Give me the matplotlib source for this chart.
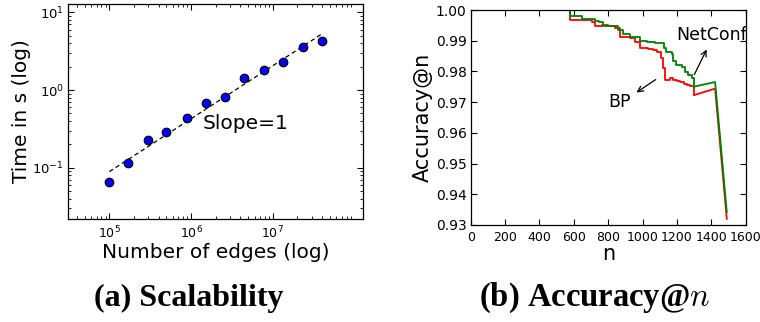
import numpy as np
import matplotlib
matplotlib.use("Agg")
import matplotlib.pyplot as plt

# ---------------- data ----------------
# (a) Scalability
edges = [1.0e5, 1.71e5, 2.94e5, 5.0e5, 8.8e5, 1.51e6, 2.6e6, 4.5e6, 7.8e6, 1.35e7, 2.33e7, 3.98e7]
times = [0.065, 0.114, 0.225, 0.291, 0.431, 0.68, 0.82, 1.44, 1.81, 2.27, 3.54, 4.24]
fit_edges = [1.0e5, 3.98e7]
fit_times = [0.089, 5.26]
x_major = [1e5, 1e6, 1e7]

# (b) Accuracy@n  (step part + linear tail)
netconf_n = [0, 578, 645, 723, 747, 770, 810, 859, 888, 927, 985, 1024, 1072, 1117,
             1124, 1135, 1169, 1179, 1195, 1227, 1247, 1266, 1286]
netconf_acc = [1.0, 0.99805, 0.99707, 0.99642, 0.9960, 0.99489, 0.9948, 0.99349, 0.99208,
               0.9913, 0.9899, 0.98948, 0.9893, 0.9891, 0.98752, 0.98643, 0.9858, 0.98339,
               0.9820, 0.98155, 0.97991, 0.9788, 0.97775]
netconf_tail_n = [1299, 1422, 1490]
netconf_tail_acc = [0.97503, 0.97655, 0.9342]

bp_n = [0, 578, 704, 723, 762, 800, 840, 869, 927, 956, 985, 1030, 1060, 1082, 1105,
        1121, 1131, 1160, 1179, 1200, 1218, 1240, 1257, 1275]
bp_acc = [1.0, 0.99664, 0.99603, 0.9949, 0.9951, 0.9948, 0.9940, 0.99131, 0.9910, 0.98947,
          0.98773, 0.9873, 0.9869, 0.9864, 0.98427, 0.9810, 0.9773, 0.9778, 0.9772, 0.9768,
          0.9764, 0.9760, 0.9756, 0.9751]
bp_tail_n = [1300, 1422, 1490]
bp_tail_acc = [0.9723, 0.9744, 0.9320]

# ---------------- figure ----------------
W, H = 760, 322
fig = plt.figure(figsize=(W / 100, H / 100), dpi=100)
fig.patch.set_facecolor("white")


def px_axes(x0, y0, x1, y1):
    return fig.add_axes([x0 / W, 1 - y1 / H, (x1 - x0) / W, (y1 - y0) / H])


# ---- (a) ----
ax1 = px_axes(68.3, 4, 362.7, 219)
ax1.set_xscale("log")
ax1.set_yscale("log")
ax1.plot(fit_edges, fit_times, color="black", linestyle=(0, (3.5, 2.5)), linewidth=0.9, zorder=2)
ax1.plot(edges, times, "o", color="#0000ff", markeredgecolor="black", markeredgewidth=0.8,
         markersize=6.2, zorder=3)
ax1.set_xlim(10 ** 4.498, 10 ** 8.1)
ax1.set_ylim(10 ** -1.66, 10 ** 1.107)
ax1.set_xticks(x_major)
ax1.text(1.4e6, 0.37, "Slope=1", fontsize=14.5, va="center", ha="left")
ax1.set_xlabel("Number of edges (log)", fontsize=14.5, labelpad=1)
ax1.set_ylabel("Time in s (log)", fontsize=14.5, labelpad=1)

# ---- (b) ----
ax2 = px_axes(470.7, 10, 745.7, 225)
ax2.step(bp_n + bp_tail_n[:1], bp_acc + bp_tail_acc[:1], where="post", color="red", linewidth=1.3)
ax2.plot(bp_tail_n, bp_tail_acc, color="red", linewidth=1.3)
ax2.step(netconf_n + netconf_tail_n[:1], netconf_acc + netconf_tail_acc[:1], where="post",
         color="green", linewidth=1.3)
ax2.plot(netconf_tail_n, netconf_tail_acc, color="green", linewidth=1.3)
ax2.set_xlim(0, 1600)
ax2.set_ylim(0.93, 1.0)
ax2.set_xticks(np.arange(0, 1601, 200))
ax2.set_yticks(np.arange(0.93, 1.0001, 0.01))
ax2.yaxis.set_major_formatter(matplotlib.ticker.FormatStrFormatter("%.2f"))
ax2.set_xlabel("n", fontsize=15, labelpad=0)
ax2.set_ylabel("Accuracy@n", fontsize=15, labelpad=2)
ax2.annotate("", xy=(1380, 0.98795), xytext=(1294, 0.97818),
             arrowprops=dict(arrowstyle="->", color="black", lw=0.9))
ax2.text(1404, 0.9919, "NetConf", fontsize=12.5, ha="center", va="center")
ax2.annotate("", xy=(951, 0.97265), xytext=(1090, 0.97786),
             arrowprops=dict(arrowstyle="->", color="black", lw=0.9))
ax2.text(863, 0.9700, "BP", fontsize=12.5, ha="center", va="center")

for ax in (ax1, ax2):
    ax.tick_params(which="both", direction="in", top=True, right=True)
    ax.tick_params(which="major", length=4, width=0.8)
    ax.tick_params(which="minor", length=2, width=0.6)
    ax.tick_params(axis="x", labelsize=9, pad=4)
    for s in ax.spines.values():
        s.set_linewidth(0.9)
ax1.tick_params(axis="y", labelsize=9.5, pad=3)
ax2.tick_params(axis="y", labelsize=10, pad=3)

# captions
fig.text(188.5 / W, 1 - 298 / H, "(a) Scalability", ha="center", va="center",
         fontsize=23, fontweight="bold", family="Liberation Serif")
fig.text(594.5 / W, 1 - 298 / H, r"(b) Accuracy@$n$", ha="center", va="center",
         fontsize=23.5, fontweight="bold", family="Liberation Serif", math_fontfamily="cm")

fig.savefig("out.png", dpi=100)
